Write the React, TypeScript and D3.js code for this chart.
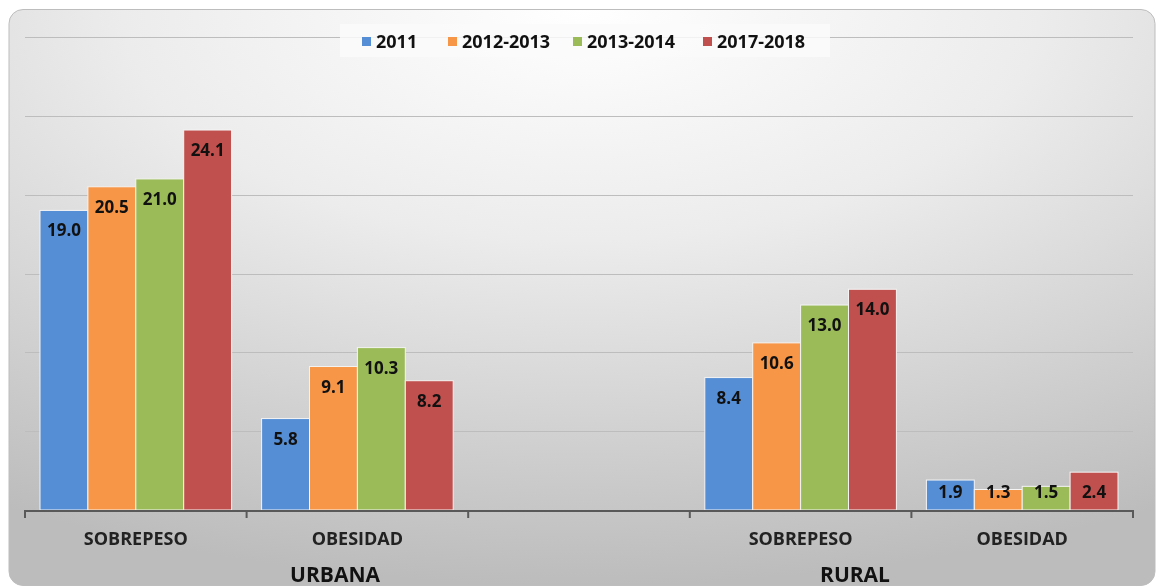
import React from 'react'
import { scaleBand, scaleLinear, range } from 'd3'

const categories = ['SOBREPESO', 'OBESIDAD', '', 'SOBREPESO', 'OBESIDAD']
const groups = ['URBANA', 'RURAL']
const series = ['2011', '2012-2013', '2013-2014', '2017-2018']
const v2011 = [19.0, 5.8, null, 8.4, 1.9]
const v2012 = [20.5, 9.1, null, 10.6, 1.3]
const v2013 = [21.0, 10.3, null, 13.0, 1.5]
const v2017 = [24.1, 8.2, null, 14.0, 2.4]
const yTicks = [5, 10, 15, 20, 25, 30]

const colors = ['#558ED5', '#F79646', '#9BBB59', '#C0504D']
const values = [v2011, v2012, v2013, v2017]
const font = '"Open Sans", sans-serif'

const App = () => {
  const width = 1156
  const height = 587
  const left = 25
  const right = 1133
  const base = 510
  const top = 37

  const x = scaleBand<number>().domain(range(categories.length)).range([left, right])
  const bw = x.bandwidth()
  const inner = scaleBand<number>().domain(range(series.length)).range([15, bw - 15])
  const y = scaleLinear().domain([0, 30]).range([base, top])

  const legendX = [362, 448, 573, 703]
  const groupX = [335, 855]

  return (
    <div style={{ position: 'fixed', left: 0, top: 0 }}>
      <svg width={width} height={height}>
        <defs>
          <radialGradient id="bg" cx="50%" cy="0%" r="100%" fx="50%" fy="0%">
            <stop offset="0" stopColor="#ffffff" />
            <stop offset="0.4" stopColor="#ececec" />
            <stop offset="1" stopColor="#bcbcbc" />
          </radialGradient>
        </defs>
        <rect x={9} y={9.5} width={1146} height={576} rx={14} fill="url(#bg)" stroke="#bdbdbd" />

        {yTicks.map(t => (
          <line key={t} x1={left} x2={right} y1={Math.round(y(t)) + 0.5} y2={Math.round(y(t)) + 0.5} stroke="#bdbdbd" />
        ))}

        <rect x={340} y={24} width={490} height={33} fill="#fafafa" opacity={0.85} />
        {series.map((s, i) => (
          <g key={s} transform={`translate(${legendX[i]},0)`}>
            <rect x={0} y={37} width={9} height={9} fill={colors[i]} />
            <text x={14} y={48} fontFamily={font} fontWeight={700} fontSize={18} fill="#111">{s}</text>
          </g>
        ))}

        {values.map((vals, si) =>
          vals.map((v, ci) => {
            if (v == null) return null
            const bx = (x(ci) as number) + (inner(si) as number)
            const by = y(v)
            const ly = Math.min(by + 20, base - 18)
            return (
              <g key={`${si}-${ci}`}>
                <rect x={bx} y={by} width={inner.bandwidth()} height={base - by} fill={colors[si]} stroke="#f4f4f4" strokeWidth={1} />
                <text x={bx + inner.bandwidth() / 2} y={ly + 6} textAnchor="middle" fontFamily={font} fontWeight={700} fontSize={17} fill="#111">
                  {v.toFixed(1)}
                </text>
              </g>
            )
          })
        )}

        <line x1={left} x2={right} y1={base + 1} y2={base + 1} stroke="#595959" strokeWidth={2} />
        {range(categories.length + 1).map(i => {
          const tx = i < categories.length ? (x(i) as number) : right
          return <line key={i} x1={tx} x2={tx} y1={base} y2={base + 8} stroke="#595959" strokeWidth={2} />
        })}

        {categories.map((c, i) => (
          <text key={i} x={(x(i) as number) + bw / 2} y={545} textAnchor="middle" fontFamily={font} fontWeight={700} fontSize={18} fill="#222">
            {c}
          </text>
        ))}
        {groups.map((g, i) => (
          <text key={g} x={groupX[i]} y={582} textAnchor="middle" fontFamily={font} fontWeight={700} fontSize={21} fill="#111">
            {g}
          </text>
        ))}
      </svg>
    </div>
  )
}

export default App
